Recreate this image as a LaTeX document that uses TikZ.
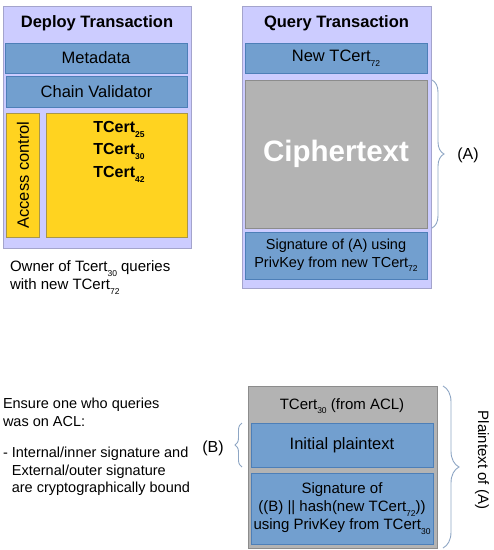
\documentclass[tikz,border=0pt]{standalone}
\usepackage{fontspec}
\setmainfont{Liberation Sans}
\usetikzlibrary{positioning,decorations.pathreplacing}

\definecolor{lavfill}{HTML}{CCCCFF}
\definecolor{lavline}{HTML}{A4A4CC}
\definecolor{bluefill}{HTML}{729FCF}
\definecolor{blueline}{HTML}{4D7FB8}
\definecolor{grayfill}{HTML}{B3B3B3}
\definecolor{grayline}{HTML}{8C8C8C}
\definecolor{yelfill}{HTML}{FFD320}
\definecolor{yelline}{HTML}{A8964A}
\definecolor{bracecol}{HTML}{8EA6C4}

\newcommand{\lowsub}[1]{\raisebox{-0.6ex}{\fontsize{8.5}{8.5}\selectfont #1}}

\begin{document}
\begin{tikzpicture}[x=1pt,y=-1pt,
    every node/.style={inner sep=0pt,outer sep=0pt},
    sz/.style 2 args={minimum width=#1pt,minimum height=#2pt},
    txbox/.style={draw=lavline,fill=lavfill,line width=0.8pt},
    bluebox/.style={draw=blueline,fill=bluefill,line width=0.8pt,align=center,font=\fontsize{16.5}{19}\selectfont},
    graybox/.style={draw=grayline,fill=grayfill,line width=0.8pt,align=center},
    yelbox/.style={draw=yelline,fill=yelfill,line width=0.8pt},
    title/.style={font=\fontsize{16.5}{19}\selectfont\bfseries},
    plain/.style={font=\fontsize{15}{18}\selectfont,align=left},
    curly/.style={draw=bracecol,line width=0.9pt,decorate,decoration={brace,amplitude=#1}}]

    \useasboundingbox (0,0) rectangle (494,550);

    % deploy transaction
    \node[txbox,sz={188}{242}] (deploy) at (97,127) {};
    \node[title] (deploytitle) at (97,23) {Deploy Transaction};
    \node[bluebox,sz={182}{30}] (meta) at (96,58) {Metadata};
    \node[bluebox,sz={181}{31}] (chain) at (96.5,91.5) {Chain Validator};
    \node[yelbox,sz={33}{124}] (acl) at (22.5,175) {};
    \node[rotate=90,font=\fontsize{16.5}{19}\selectfont] (acltext) at (23,175) {Access control};
    \node[yelbox,sz={141}{124}] (certs) at (116.5,175) {};
    \node[font=\fontsize{16}{22.5}\selectfont\bfseries,align=left,anchor=north] (certlist) at (119,121)
        {TCert\lowsub{25}\\TCert\lowsub{30}\\TCert\lowsub{42}};
    \node[plain,anchor=north west] (owner) at (10,261)
        {Owner of Tcert\lowsub{30} queries\\with new TCert\lowsub{72}};

    % query transaction
    \node[txbox,sz={189}{282}] (query) at (336.5,147) {};
    \node[title] (querytitle) at (336.5,23) {Query Transaction};
    \node[bluebox,sz={182}{30}] (newcert) at (336,58) {New TCert\lowsub{72}};
    \node[graybox,sz={182}{148},text=white,font=\fontsize{29.5}{34}\selectfont\bfseries] (cipher) at (336,154) {Ciphertext};
    \node[bluebox,sz={182}{47},font=\fontsize{14.5}{17.5}\selectfont] (outersig) at (336,255.5)
        {Signature of (A) using\\PrivKey from new TCert\lowsub{72}};
    \draw[curly=12pt] ([xshift=5pt]cipher.north east) -- ([xshift=5pt]cipher.south east);
    \node[font=\fontsize{16}{19}\selectfont] (labelA) at (468,155) {(A)};

    % plaintext of (A)
    \node[graybox,sz={189}{162}] (plain) at (342.5,467) {};
    \node[font=\fontsize{15}{18}\selectfont] (aclcert) at (342,406) {TCert\lowsub{30} (from ACL)};
    \node[bluebox,sz={182}{44}] (initial) at (342,445) {Initial plaintext};
    \node[bluebox,sz={182}{71},font=\fontsize{15}{18}\selectfont] (innersig) at (342,508.5)
        {Signature of\\((B) || hash(new TCert\lowsub{72}))\\using PrivKey from TCert\lowsub{30}};
    \draw[curly=16pt] ([xshift=6pt]plain.north east) -- ([xshift=6pt]plain.south east);
    \node[rotate=-90,font=\fontsize{15}{18}\selectfont] (labelPA) at (482,460) {Plaintext of (A)};
    \draw[curly=7pt] ([xshift=-9pt]initial.south west) -- ([xshift=-9pt]initial.north west);
    \node[font=\fontsize{16}{19}\selectfont] (labelB) at (213,448) {(B)};

    \node[font=\fontsize{14.5}{17.5}\selectfont,align=left,anchor=north west] (ensure) at (3,398)
        {Ensure one who queries\\was on ACL:\\[14pt]- Internal/inner signature and\\
         \phantom{- }External/outer signature\\\phantom{- }are cryptographically bound};
\end{tikzpicture}
\end{document}
